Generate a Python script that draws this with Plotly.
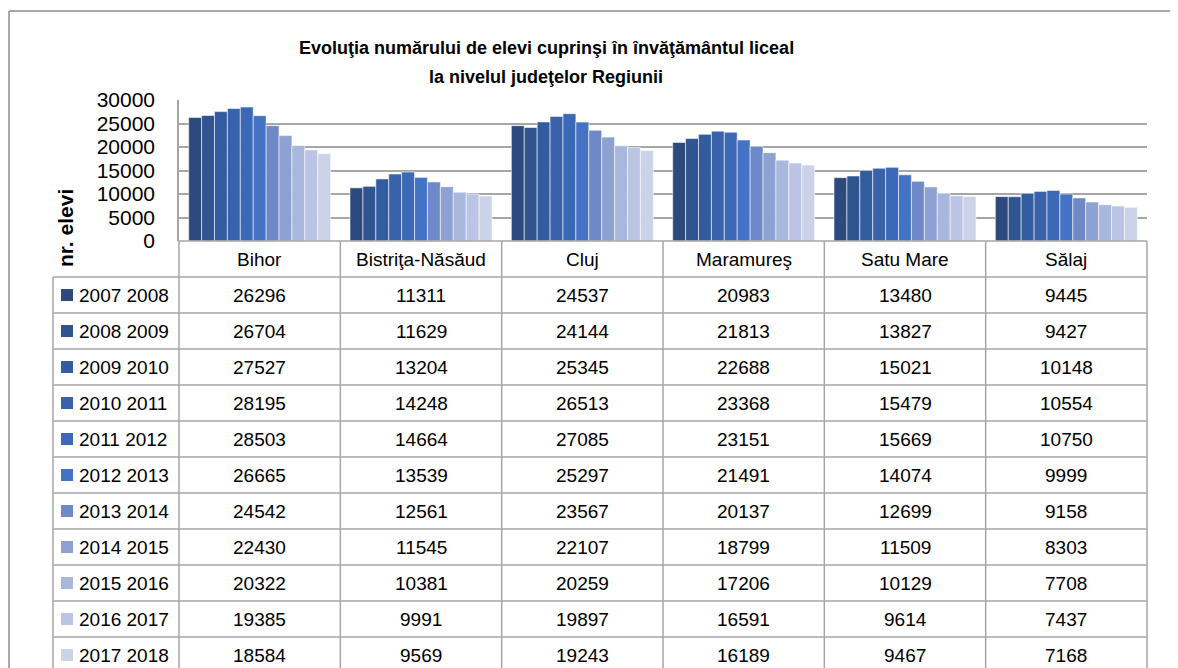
import plotly.graph_objects as go

counties = ["Bihor", "Bistri\u0163a-N\u0103s\u0103ud", "Cluj", "Maramure\u015f", "Satu Mare", "S\u0103laj"]
series = ["2007 2008", "2008 2009", "2009 2010", "2010 2011", "2011 2012", "2012 2013",
          "2013 2014", "2014 2015", "2015 2016", "2016 2017", "2017 2018"]
v2007 = [26296, 11311, 24537, 20983, 13480, 9445]
v2008 = [26704, 11629, 24144, 21813, 13827, 9427]
v2009 = [27527, 13204, 25345, 22688, 15021, 10148]
v2010 = [28195, 14248, 26513, 23368, 15479, 10554]
v2011 = [28503, 14664, 27085, 23151, 15669, 10750]
v2012 = [26665, 13539, 25297, 21491, 14074, 9999]
v2013 = [24542, 12561, 23567, 20137, 12699, 9158]
v2014 = [22430, 11545, 22107, 18799, 11509, 8303]
v2015 = [20322, 10381, 20259, 17206, 10129, 7708]
v2016 = [19385, 9991, 19897, 16591, 9614, 7437]
v2017 = [18584, 9569, 19243, 16189, 9467, 7168]
values = [v2007, v2008, v2009, v2010, v2011, v2012, v2013, v2014, v2015, v2016, v2017]
colors = ["#2D4A7E", "#30548F", "#335B9F", "#3962AB", "#3C68B8", "#4472C4",
          "#6E88C8", "#8DA2D2", "#A9B7DC", "#BBC5E3", "#CCD3E9"]
title_lines = ["Evolu\u0163ia num\u0103rului de elevi cuprin\u015fi \u00een \u00eenv\u0103\u0163\u0103m\u00e2ntul liceal",
               "la nivelul jude\u0163elor Regiunii"]

# page body has an 8px margin, so the figure is sized and laid out to compensate
OFF = 8
W, H = 1178 - OFF, 668 - OFF
# plot area in page (reference) pixels
L, R, T, B = 179, 1147, 100, 241
FONT = "Liberation Sans, Arial, sans-serif"
GRID = "#A6A6A6"


def px(x):
    return (x - L) / (R - L)


def py(y):
    return (B - y) / (B - T)


fig = go.Figure()
for name, vals, col in zip(series, values, colors):
    fig.add_trace(go.Bar(x=counties, y=vals, name=name,
                         marker=dict(color=col, line=dict(color="rgba(255,255,255,0.55)", width=1))))

shapes = []
annotations = []

# outer border
shapes.append(dict(type="line", xref="paper", yref="paper", x0=px(9), x1=px(1190), y0=py(11), y1=py(11),
                   line=dict(color="#8C8C8C", width=1.5)))
shapes.append(dict(type="line", xref="paper", yref="paper", x0=px(9), x1=px(9), y0=py(11), y1=py(680),
                   line=dict(color="#8C8C8C", width=1.5)))

row_h = 36
header_bot = 277
ncol = len(counties)
col_w = (R - L) / ncol
# column verticals
for i in range(ncol + 1):
    xx = L + i * col_w
    shapes.append(dict(type="line", xref="paper", yref="paper", x0=px(xx), x1=px(xx), y0=py(B), y1=py(680),
                       line=dict(color=GRID, width=1.5)))
# legend column left edge
shapes.append(dict(type="line", xref="paper", yref="paper", x0=px(53), x1=px(53), y0=py(header_bot), y1=py(680),
                   line=dict(color=GRID, width=1.5)))
# horizontal lines
shapes.append(dict(type="line", xref="paper", yref="paper", x0=px(L), x1=px(R), y0=py(B), y1=py(B),
                   line=dict(color=GRID, width=1.5)))
for r in range(len(series) + 1):
    yy = header_bot + r * row_h
    shapes.append(dict(type="line", xref="paper", yref="paper", x0=px(53), x1=px(R), y0=py(yy), y1=py(yy),
                       line=dict(color=GRID, width=1.5)))

# header labels
for c in counties:
    annotations.append(dict(x=c, xref="x", y=py((B + header_bot) / 2), yref="paper", text=c, showarrow=False,
                            xanchor="center", yanchor="middle", font=dict(family=FONT, size=19, color="#000")))

# data rows
for r, (name, vals, col) in enumerate(zip(series, values, colors)):
    yc = header_bot + r * row_h + row_h / 2
    shapes.append(dict(type="rect", xref="paper", yref="paper", x0=px(61), x1=px(73), y0=py(yc - 6), y1=py(yc + 6),
                       fillcolor=col, line=dict(width=0)))
    annotations.append(dict(x=px(77), xref="paper", y=py(yc), yref="paper", text=name, showarrow=False,
                            xanchor="left", yanchor="middle", font=dict(family=FONT, size=19, color="#000")))
    for c, v in zip(counties, vals):
        annotations.append(dict(x=c, xref="x", y=py(yc), yref="paper", text=str(v), showarrow=False,
                                xanchor="center", yanchor="middle", font=dict(family=FONT, size=19, color="#000")))

# title (two lines)
for line_text, yline in zip(title_lines, [48, 77]):
    annotations.append(dict(x=px(546), xref="paper", y=py(yline), yref="paper", text="<b>" + line_text + "</b>",
                            showarrow=False, xanchor="center", yanchor="middle",
                            font=dict(family=FONT, size=18, color="#000")))
# y axis title
annotations.append(dict(x=px(65), xref="paper", y=py(228), yref="paper", text="<b>nr. elevi</b>", textangle=-90,
                        showarrow=False, xanchor="center", yanchor="middle",
                        font=dict(family=FONT, size=21, color="#000")))

fig.update_layout(
    width=W, height=H,
    margin=dict(l=L - OFF, r=W - (R - OFF), t=T - OFF, b=H - (B - OFF), pad=0),
    paper_bgcolor="white", plot_bgcolor="white",
    barmode="group", bargap=0.12, bargroupgap=0,
    showlegend=False,
    shapes=shapes, annotations=annotations,
    xaxis=dict(showticklabels=False, showgrid=False, zeroline=False, showline=False, ticks=""),
    yaxis=dict(range=[0, 30000], dtick=5000, tickformat="d", showgrid=True, gridcolor=GRID, gridwidth=1.5,
               zeroline=False, showline=True, linecolor=GRID, linewidth=1.5, ticks="",
               ticklabelstandoff=18, tickfont=dict(family=FONT, size=21, color="#000")),
)

fig.write_html("out.html")
